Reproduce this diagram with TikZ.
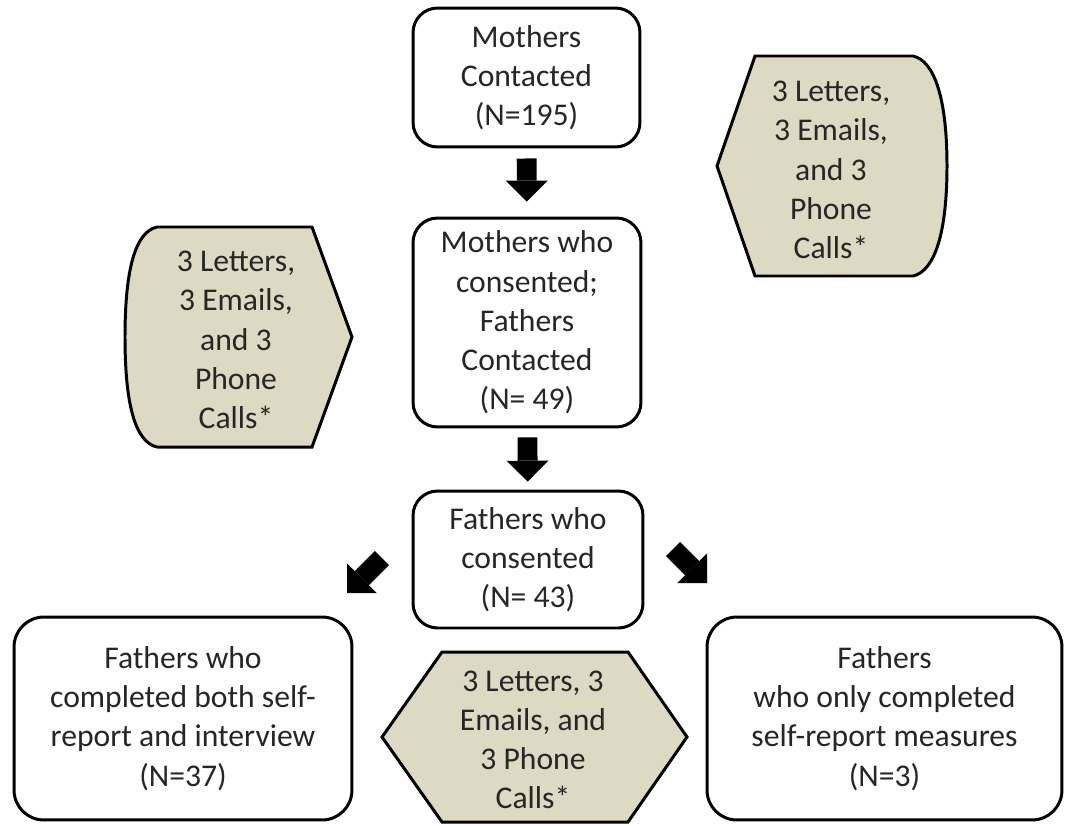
\documentclass[tikz,border=0pt]{standalone}
\usepackage{fontspec}
\setmainfont{Carlito}
\usetikzlibrary{arrows.meta}
\definecolor{tanfill}{HTML}{DDD9C3}
\definecolor{txtgray}{RGB}{38,38,38}
\tikzset{
  txt/.style={align=center, text=txtgray, font=\fontsize{18pt}{22.3pt}\selectfont, inner sep=0pt},
  box/.style={txt, draw=black, line width=1.7pt, rounded corners=14pt, fill=white},
  bigbox/.style={box, rounded corners=17pt},
  tanshape/.style={draw=black, line width=1.7pt, fill=tanfill, line join=miter},
  barrow/.style={line width=11.3pt, draw=black, -{Triangle[width=23.8pt,length=11.9pt,line width=0pt]}}
}
\begin{document}
\begin{tikzpicture}[x=0.02cm,y=-0.02cm]
\useasboundingbox (0,0) rectangle (1075,825);

% main boxes
\node[box, minimum width=4.54cm, minimum height=2.78cm] (m1) at (526.5,77.5)
  {Mothers\\Contacted\\(N=195)};
\node[box, minimum width=4.56cm, minimum height=4.18cm] (m2) at (527,322.5)
  {Mothers who\\consented;\\Fathers\\Contacted\\(N= 49)};
\node[box, minimum width=4.6cm, minimum height=2.74cm] (m3) at (528,559.5)
  {Fathers who\\consented\\(N= 43)};
\node[bigbox, minimum width=6.76cm, minimum height=4.06cm] (f1) at (183,718.5)
  {Fathers who\\completed both self-\\report and interview\\(N=37)};
\node[bigbox, minimum width=7.1cm, minimum height=4.06cm] (f2) at (884.5,718.5)
  {Fathers\\who only completed\\self-report measures\\(N=3)};

% tan shapes
\draw[tanshape] (157,227) -- (312,227) -- (352,337) -- (312,447) -- (157,447)
  .. controls (135,442) and (125,404) .. (125,337)
  .. controls (125,270) and (135,232) .. (157,227) -- cycle;
\node[txt] (c1) at (236,340) {3 Letters,\\3 Emails,\\and 3\\Phone\\Calls*};

\draw[tanshape] (717,166) -- (755,56) -- (913,56)
  .. controls (935,61) and (947,100) .. (947,166)
  .. controls (947,232) and (935,271) .. (913,276)
  -- (755,276) -- cycle;
\node[txt] (c2) at (831,170) {3 Letters,\\3 Emails,\\and 3\\Phone\\Calls*};

\draw[tanshape] (382,737) -- (442,652) -- (628,652) -- (687,737) -- (628,822) -- (442,822) -- cycle;
\node[txt] (c3) at (533,740) {3 Letters, 3\\Emails, and\\3 Phone\\Calls*};

% block arrows
\draw[barrow, shorten <=5.7pt, shorten >=8.5pt] (m1) -- (m2);
\draw[barrow, shorten <=5.1pt, shorten >=4.5pt] (m2) -- (m3);
\coordinate (la0) at (382,558);
\coordinate (la1) at (347,593);
\coordinate (ra0) at (673,549);
\coordinate (ra1) at (707,583);
\draw[barrow] (la0) -- (la1);
\draw[barrow] (ra0) -- (ra1);
\end{tikzpicture}
\end{document}
